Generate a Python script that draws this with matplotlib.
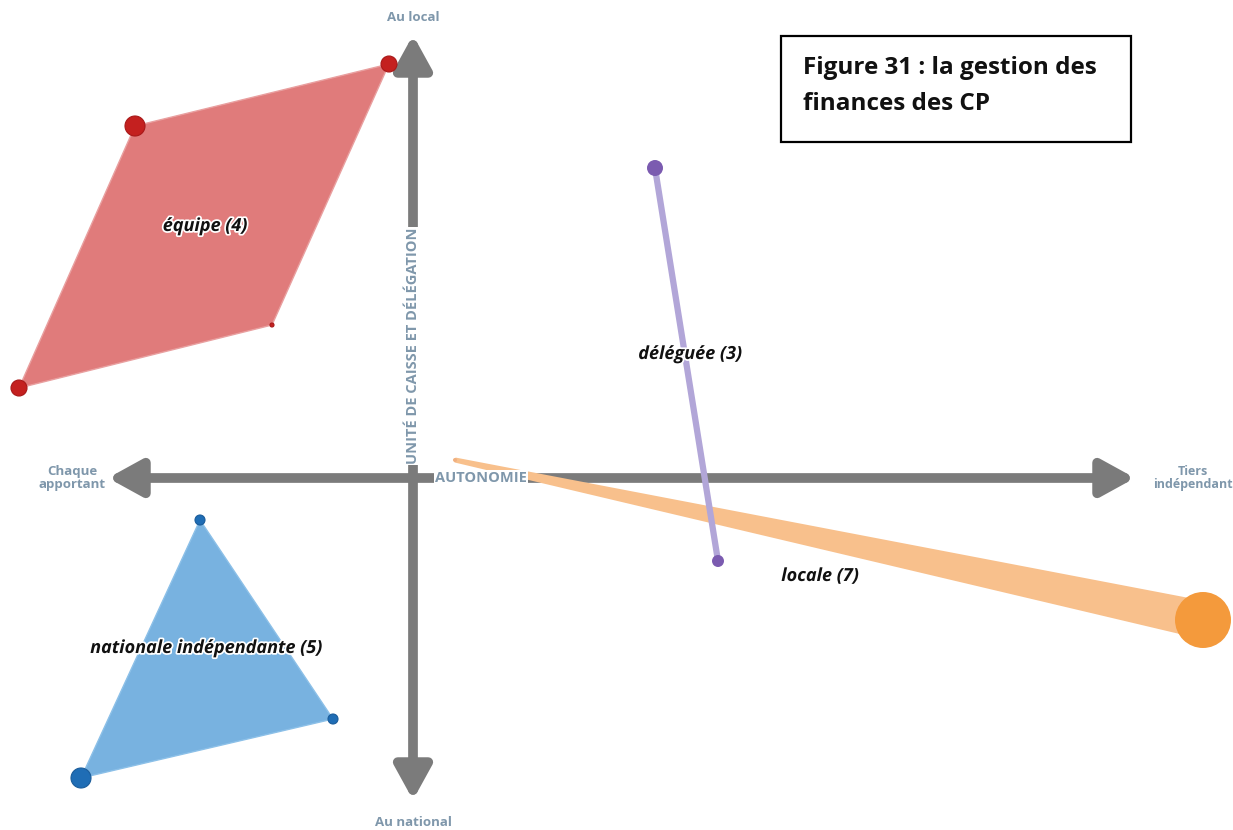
import matplotlib.pyplot as plt
import matplotlib.patheffects as pe
from matplotlib.patches import Polygon, Rectangle
import numpy as np

# Coordinates: origin at the crossing of the two axes,
# units are roughly pixels of the reference image (x to the right, y up)
equipe_x = [-24, -278, -394, -141]
equipe_y = [414, 352, 90, 153]
equipe_r = [8, 10, 8, 2]

nationale_x = [-213, -80, -332]
nationale_y = [-42, -241, -300]
nationale_r = [5, 5, 10]

deleguee_x = [242, 305]
deleguee_y = [310, -83]
deleguee_r = [8, 6]

locale_x = [42, 790]
locale_y = [18, -142]
locale_r = [2, 28]

group_labels = ["équipe (4)", "nationale indépendante (5)", "déléguée (3)", "locale (7)"]
group_label_x = [-208, -207, 277, 407]
group_label_y = [252, -170, 124, -98]

axis_ends = {"left": -305, "right": 722, "top": 443, "bottom": -322}
axis_names = ["Au local", "Au national", "Chaque\napportant", "Tiers\nindépendant"]

AXIS_GRAY = "#7b7b7b"
AXIS_TEXT = "#7f97ab"


def _size(r):
    # radius in pixels -> scatter size in points^2 (dpi 100)
    return (2 * np.array(r) * 72 / 100) ** 2


fig = plt.figure(figsize=(12.33, 8.30), dpi=100)
ax = fig.add_axes([0, 0, 1, 1])
ax.set_xlim(-413, 820)
ax.set_ylim(-352, 478)
ax.set_aspect("equal")
ax.axis("off")

# Axes arrows
arrow = dict(arrowstyle="<|-|>,head_length=2.0,head_width=1.1", color=AXIS_GRAY,
             lw=7, shrinkA=0, shrinkB=0)
ax.annotate("", xy=(axis_ends["right"], 0), xytext=(axis_ends["left"], 0),
            arrowprops=arrow, zorder=1)
ax.annotate("", xy=(0, axis_ends["top"]), xytext=(0, axis_ends["bottom"]),
            arrowprops=arrow, zorder=1)

# Axis names
name_font = dict(color=AXIS_TEXT, fontsize=9.5, fontweight="bold", family="Open Sans",
                 ha="center", va="center", linespacing=1.0)
ax.text(0, 460, axis_names[0], **name_font)
ax.text(0, -344, axis_names[1], **name_font)
ax.text(-341, 0, axis_names[2], **name_font)
ax.text(780, 0, axis_names[3], **{**name_font, "fontsize": 9})

ax.text(0, 132, "UNITÉ DE CAISSE ET DÉLÉGATION", rotation=90, zorder=2,
        bbox=dict(facecolor="white", edgecolor="none", pad=0.5),
        **{**name_font, "fontsize": 10.5})
ax.text(68, 0, "AUTONOMIE", zorder=3.5,
        bbox=dict(facecolor="white", edgecolor="none", pad=0.5),
        **{**name_font, "fontsize": 10.5})

# équipe (4)
ax.add_patch(Polygon(np.column_stack([equipe_x, equipe_y]), closed=True,
                     facecolor="#e07b7b", edgecolor="#e9a0a0", lw=1, zorder=3))
ax.scatter(equipe_x, equipe_y, s=_size(equipe_r), color="#c4201f",
           edgecolor="#a81818", lw=0.8, zorder=4)

# nationale indépendante (5)
ax.add_patch(Polygon(np.column_stack([nationale_x, nationale_y]), closed=True,
                     facecolor="#78b2e0", edgecolor="#8cc0e8", lw=1, zorder=3))
ax.scatter(nationale_x, nationale_y, s=_size(nationale_r), color="#1f6db5",
           edgecolor="#1a5c9a", lw=0.8, zorder=4)

# locale (7): tapered band, width grows with the point size
p0 = np.array([locale_x[0], locale_y[0]], dtype=float)
p1 = np.array([locale_x[1], locale_y[1]], dtype=float)
d = (p1 - p0) / np.linalg.norm(p1 - p0)
n = np.array([-d[1], d[0]])
w0, w1 = 2.5, 19
band = [p0 + n * w0, p1 + n * w1, p1 - n * w1, p0 - n * w0]
ax.add_patch(Polygon(band, closed=True, facecolor="#f8c08c", edgecolor="none", zorder=3))
ax.scatter(locale_x, locale_y, s=_size(locale_r), color=["#f0b080", "#f49a3c"],
           edgecolor="none", zorder=4)

# déléguée (3)
ax.plot(deleguee_x, deleguee_y, color="#b2a6d8", lw=4.5, solid_capstyle="round", zorder=5)
ax.scatter(deleguee_x, deleguee_y, s=_size(deleguee_r), color="#7b5bb0",
           edgecolor="none", zorder=6)

# Group labels
for label, lx, ly in zip(group_labels, group_label_x, group_label_y):
    ax.text(lx, ly, label, fontsize=13, fontweight="bold", fontstyle="italic",
            family="Open Sans", color="#111111", ha="center", va="center", zorder=7,
            path_effects=[pe.withStroke(linewidth=2.5, foreground="white")])

# Title box
ax.add_patch(Rectangle((368, 336), 350, 106, facecolor="white", edgecolor="black",
                       lw=1.6, zorder=8))
ax.text(390, 392, "Figure 31 : la gestion des\nfinances des CP", fontsize=17.5,
        fontweight="bold", family="Open Sans", color="#111111", ha="left", va="center",
        linespacing=1.62, zorder=9)

fig.savefig("out.png", dpi=100)
